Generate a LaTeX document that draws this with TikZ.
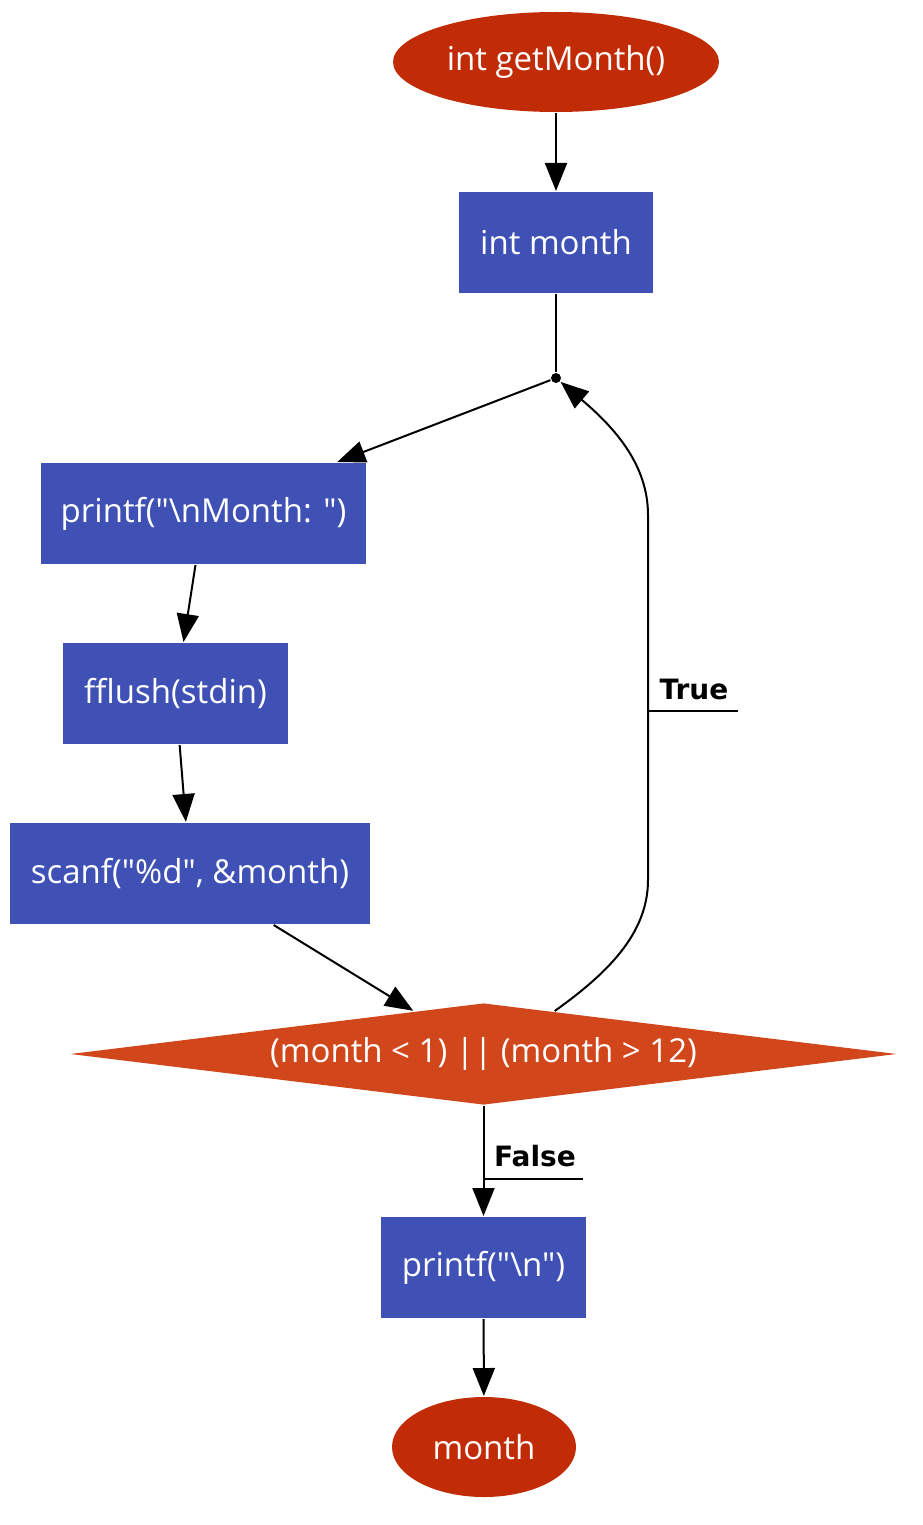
\documentclass[tikz,border=0pt]{standalone}
\usepackage{fontspec}
\setmainfont{Open Sans}[Ligatures=TeXOff]
\newfontfamily\labfont{DejaVu Sans}
\usetikzlibrary{shapes.geometric,arrows.meta,calc}
\definecolor{ovalred}{HTML}{C12C07}
\definecolor{boxblue}{HTML}{4051B5}
\definecolor{diared}{HTML}{D1461B}
\newcommand{\qq}{\symbol{34}}
\tikzset{
  term/.style={ellipse, fill=ovalred, text=white, minimum width=326pt, minimum height=100pt, inner sep=0pt},
  proc/.style={rectangle, fill=boxblue, text=white, minimum height=101pt, inner sep=0pt},
  dec/.style={diamond, fill=diared, text=white, aspect=8.1, minimum width=827pt, minimum height=102pt, inner sep=0pt},
  arr/.style={-{Triangle[length=28pt,width=22pt]}, line width=2pt},
  lab/.style={font=\labfont\bfseries\fontsize{28}{34}\selectfont, text=black, inner sep=0pt},
  junc/.style={circle, fill=black, inner sep=0pt, minimum size=10pt}
}
\begin{document}
\begin{tikzpicture}[x=1pt, y=-1pt, font=\fontsize{33}{40}\selectfont, line width=2pt]
\useasboundingbox (0,0) rectangle (922,1525);
\node[term] (start) at (556,62) {int getMonth()};
\node[proc, minimum width=194pt] (m) at (556,242.5) {int month};
\node[junc] (j) at (556,378) {};
\node[proc, minimum width=325pt] (p1) at (203.5,513.5) {printf(\qq\textbackslash nMonth: \qq)};
\node[proc, minimum width=225pt] (ff) at (175.5,693.5) {fflush(stdin)};
\node[proc, minimum width=360pt] (sc) at (190,873.5) {scanf(\qq\%d\qq, \&month)};
\node[dec] (d) at (483.5,1054) {(month < 1) || (month > 12)};
\node[proc, minimum width=205pt] (p2) at (483.5,1267.5) {printf(\qq\textbackslash n\qq)};
\node[term, minimum width=184pt] (end) at (484,1447) {month};

\draw[arr] (start) -- (m);
\draw (m) -- (j);
\draw[arr] (j) -- (p1);
\draw[arr] (p1) -- (ff);
\draw[arr] (ff) -- (sc);
\draw[arr] (sc) -- (d);
\coordinate (dt) at ($(d.north)!0.172!(d.east)$);
\draw[arr] (dt) .. controls (605,975) and (648,935) .. (648,880) -- (648,515) .. controls (648,465) and (615,428) .. (j);
\draw[arr] (d) -- (p2);
\draw[arr] (p2) -- (end);

\node[lab] (tl) at (694,689) {True};
\coordinate (tu1) at (648,711);
\coordinate (tu2) at (738,711);
\draw (tu1) -- (tu2);
\node[lab] (fl) at (535,1156) {False};
\coordinate (fu1) at (484,1179);
\coordinate (fu2) at (583,1179);
\draw (fu1) -- (fu2);
\end{tikzpicture}
\end{document}
